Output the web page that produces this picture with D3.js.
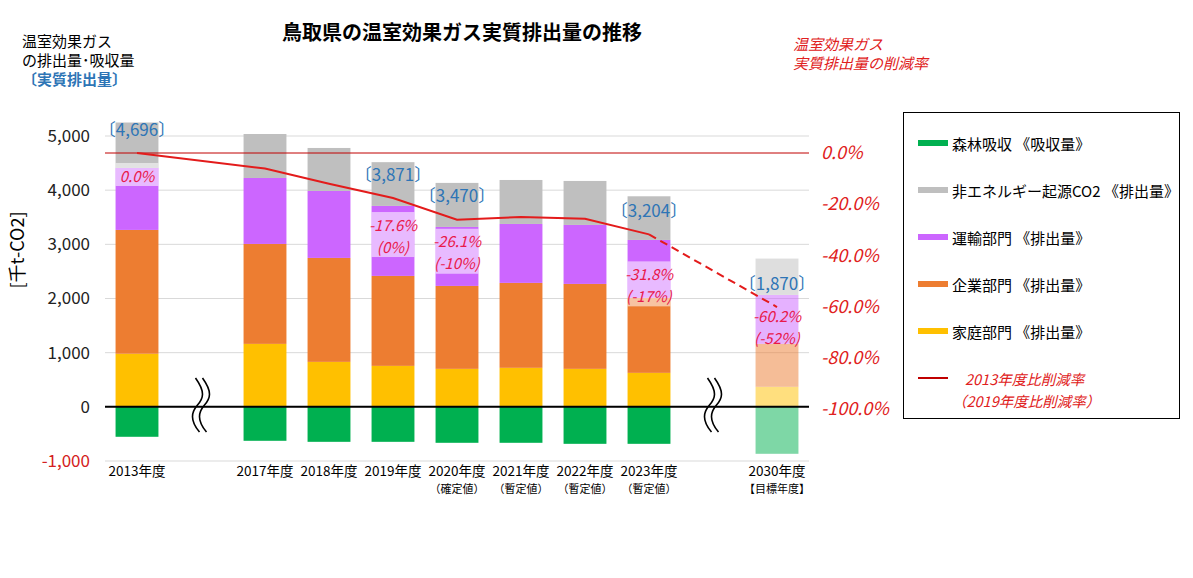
<!DOCTYPE html>
<html>
<head>
<meta charset="utf-8">
<script src="https://cdn.jsdelivr.net/npm/d3@7"></script>
<style>
  body { margin: 0; background: #fff; }
  svg { font-family: "Noto Sans CJK JP", "Noto Sans", sans-serif; }
</style>
</head>
<body>
<svg id="chart" width="1193" height="578"></svg>
<script>
// slots on the x axis ("~" slots are the broken-axis gaps)
const slots = ["2013", "~1", "2017", "2018", "2019", "2020", "2021", "2022", "2023", "~2", "2030"];
const years = ["2013", "2017", "2018", "2019", "2020", "2021", "2022", "2023", "2030"];
const yearLabels = ["2013年度", "2017年度", "2018年度", "2019年度", "2020年度", "2021年度", "2022年度", "2023年度", "2030年度"];
const subLabels = ["", "", "", "", "（確定値）", "（暫定値）", "（暫定値）", "（暫定値）", "【目標年度】"];

// 千t-CO2
const household = [980, 1162, 830, 756, 701, 720, 701, 627, 369];
const enterprise = [2286, 1845, 1919, 1661, 1531, 1568, 1568, 1384, 793];
const transport = [1144, 1218, 1236, 1292, 1089, 1088, 1089, 1070, 904];
const nonEnergy = [839, 812, 794, 808, 813, 812, 812, 806, 671];
const forest = [-553, -627, -646, -646, -664, -664, -683, -683, -867];

const netShown = [4696, null, null, 3871, 3470, null, null, 3204, 1870];
const rates = [0, -6.1, -12.0, -17.6, -26.1, -25.0, -25.7, -31.8, -60.2];
const rateShown = ["0.0%", null, null, "-17.6%", "-26.1%", null, null, "-31.8%", "-60.2%"];
const rate2019 = [null, null, null, "(0%)", "(-10%)", null, null, "(-17%)", "(-52%)"];

const leftTicks = [-1000, 0, 1000, 2000, 3000, 4000, 5000];
const rightTicks = [0, -0.2, -0.4, -0.6, -0.8, -1.0];

const series = [
  { name: "家庭部門 《排出量》", values: household, color: "#ffc000" },
  { name: "企業部門 《排出量》", values: enterprise, color: "#ed7d31" },
  { name: "運輸部門 《排出量》", values: transport, color: "#cc66ff" },
  { name: "非エネルギー起源CO2 《排出量》", values: nonEnergy, color: "#bfbfbf" }
];
const forestColor = "#00b050";
const lineColor = "#e31b1b";
const blue = "#2e75b6";
const pctColor = "#e8194b";

const svg = d3.select("#chart");

const x = d3.scaleBand().domain(slots).range([105, 809]).paddingInner(0.33).paddingOuter(0.165);
const y = d3.scaleLinear().domain([-1000, 5000]).range([461, 136]);
const yr = d3.scaleLinear().domain([-1.2, 0]).range([460, 153]);
const fmtL = d3.format(",");
const fmtR = d3.format(".1%");

// grid
svg.append("g").selectAll("line").data(leftTicks).join("line")
  .attr("x1", 105).attr("x2", 809)
  .attr("y1", d => y(d)).attr("y2", d => y(d))
  .style("stroke", "#d9d9d9").style("stroke-width", 1);

// left axis
const leftAxis = svg.append("g").attr("transform", "translate(93,0)")
  .call(d3.axisLeft(y).tickValues(leftTicks).tickSize(0).tickFormat(d => fmtL(d).replace("−", "-")));
leftAxis.select(".domain").remove();
leftAxis.selectAll("text").style("font-size", "17px").style("font-family", "'Noto Sans CJK JP', sans-serif")
  .style("fill", d => d < 0 ? "#d42020" : "#222");

// right axis
const rightAxis = svg.append("g").attr("transform", "translate(818,0)")
  .call(d3.axisRight(yr).tickValues(rightTicks).tickSize(0).tickFormat(d => fmtR(d).replace("−", "-")));
rightAxis.select(".domain").remove();
rightAxis.selectAll("text").style("font-size", "18px").style("font-style", "italic")
  .style("font-family", "'Noto Sans CJK JP', sans-serif").style("fill", "#e02020");

// bars
const bw = x.bandwidth();
years.forEach((yrKey, i) => {
  const g = svg.append("g").style("opacity", yrKey === "2030" ? 0.5 : 1);
  let base = 0;
  series.forEach(s => {
    const v = s.values[i];
    g.append("rect")
      .attr("x", x(yrKey)).attr("width", bw)
      .attr("y", y(base + v)).attr("height", y(base) - y(base + v))
      .style("fill", s.color);
    base += v;
  });
  g.append("rect")
    .attr("x", x(yrKey)).attr("width", bw)
    .attr("y", y(0)).attr("height", y(forest[i]) - y(0))
    .style("fill", forestColor);
});

// zero line and 0% reference line
svg.append("line").attr("x1", 105).attr("x2", 809).attr("y1", y(0)).attr("y2", y(0))
  .style("stroke", "#000").style("stroke-width", 2);
svg.append("line").attr("x1", 105).attr("x2", 809).attr("y1", yr(0)).attr("y2", yr(0))
  .style("stroke", "#c00000").style("stroke-width", 1);

// break marks
["~1", "~2"].forEach(k => {
  const cx = x(k) + bw / 2;
  [-3.5, 3.5].forEach(off => {
    const xx = cx + off;
    svg.append("path")
      .attr("d", `M${xx - 2},378 C${xx + 8},392 ${xx + 6},398 ${xx},405 S${xx - 8},420 ${xx + 2},432`)
      .style("fill", "none").style("stroke", "#000").style("stroke-width", 1.6);
  });
});

// reduction rate line
const cxOf = i => x(years[i]) + bw / 2;
const line = d3.line().x(d => cxOf(d)).y(d => yr(rates[d] / 100));
svg.append("path").datum([0, 1, 2, 3, 4, 5, 6, 7]).attr("d", line)
  .style("fill", "none").style("stroke", lineColor).style("stroke-width", 2);
svg.append("path").datum([7, 8]).attr("d", line)
  .style("fill", "none").style("stroke", lineColor).style("stroke-width", 2)
  .style("stroke-dasharray", "8,5");

// labels (hand-placed offsets below/above the line point, as in the original)
const pctDy = { "2013": 22, "2019": 26, "2020": 21, "2023": 39, "2030": 8 };
years.forEach((k, i) => {
  if (netShown[i] === null) return;
  const cx = cxOf(i);
  const py = yr(rates[i] / 100);
  const ly = py + pctDy[k];
  const lines = [rateShown[i], rate2019[i]].filter(t => t);
  if (k !== "2030") {
    const top = ly - 12;
    const bottom = ly + (lines.length - 1) * 22 + 11;
    svg.append("rect").attr("x", x(k)).attr("width", bw)
      .attr("y", top).attr("height", bottom - top)
      .style("fill", "#fff").style("opacity", 0.55);
  }
  lines.forEach((t, j) => {
    svg.append("text").attr("x", cx).attr("y", ly + j * 22)
      .attr("text-anchor", "middle").attr("dominant-baseline", "central")
      .style("font-size", "15px").style("font-style", "italic").style("fill", pctColor)
      .text(t);
  });
  svg.append("text").attr("x", cx).attr("y", py - 25)
    .attr("text-anchor", "middle").attr("dominant-baseline", "central")
    .style("font-size", "17px").style("fill", blue)
    .text("〔" + fmtL(netShown[i]) + "〕");
});

// x labels
years.forEach((k, i) => {
  const cx = cxOf(i);
  svg.append("text").attr("x", cx).attr("y", 476).attr("text-anchor", "middle")
    .style("font-size", "13.5px").style("fill", "#000").text(yearLabels[i]);
  if (subLabels[i]) {
    svg.append("text").attr("x", cx).attr("y", 493).attr("text-anchor", "middle")
      .style("font-size", "11px").style("fill", "#000").text(subLabels[i]);
  }
});

// titles
svg.append("text").attr("x", 462).attr("y", 40).attr("text-anchor", "middle")
  .style("font-size", "20px").style("font-weight", "bold").text("鳥取県の温室効果ガス実質排出量の推移");
svg.append("text").attr("x", 22).attr("y", 47).style("font-size", "15px").text("温室効果ガス");
svg.append("text").attr("x", 22).attr("y", 66).style("font-size", "15px").text("の排出量･吸収量");
svg.append("text").attr("x", 22).attr("y", 85).style("font-size", "15px").style("font-weight", "bold")
  .style("fill", blue).text("〔実質排出量〕");
svg.append("text").attr("x", 793).attr("y", 50).style("font-size", "15px").style("font-style", "italic")
  .style("fill", "#e02020").text("温室効果ガス");
svg.append("text").attr("x", 793).attr("y", 69).style("font-size", "15px").style("font-style", "italic")
  .style("fill", "#e02020").text("実質排出量の削減率");
svg.append("text").attr("transform", "translate(24,250) rotate(-90)").attr("text-anchor", "middle")
  .style("font-size", "18px").text("[千t-CO2]");

// legend
const legend = svg.append("g");
legend.append("rect").attr("x", 903.5).attr("y", 112.5).attr("width", 276).attr("height", 306)
  .style("fill", "#fff").style("stroke", "#000").style("stroke-width", 1);
const legendItems = [{ name: "森林吸収 《吸収量》", color: forestColor }]
  .concat(series.slice().reverse().map(s => ({ name: s.name, color: s.color })));
legendItems.forEach((d, i) => {
  const ly = 143 + i * 47;
  legend.append("line").attr("x1", 918).attr("x2", 948).attr("y1", ly).attr("y2", ly)
    .style("stroke", d.color).style("stroke-width", 6);
  legend.append("text").attr("x", 952).attr("y", ly).attr("dominant-baseline", "central")
    .style("font-size", "15px").text(d.name);
});
legend.append("line").attr("x1", 918).attr("x2", 948).attr("y1", 378).attr("y2", 378)
  .style("stroke", "#c00000").style("stroke-width", 2);
legend.append("text").attr("x", 965).attr("y", 378).attr("dominant-baseline", "central")
  .style("font-size", "14.5px").style("font-style", "italic").style("fill", "#e02020").text("2013年度比削減率");
legend.append("text").attr("x", 952).attr("y", 400).attr("dominant-baseline", "central")
  .style("font-size", "14.5px").style("font-style", "italic").style("fill", "#e02020").text("（2019年度比削減率）");
</script>
</body>
</html>
